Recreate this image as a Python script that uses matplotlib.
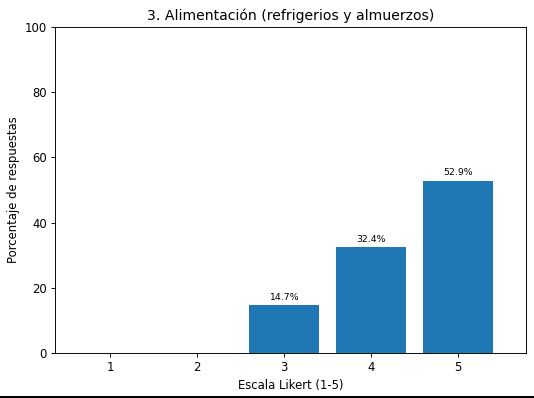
import matplotlib
matplotlib.use("Agg")
import matplotlib.pyplot as plt
from matplotlib.lines import Line2D

categories = [1, 2, 3, 4, 5]
percentages = [0.0, 0.0, 14.7, 32.4, 52.9]
tick_labels = ["1", "2", "3", "4", "5"]
title = "3. Alimentación (refrigerios y almuerzos)"

s = 1.12
plt.rcParams.update({
    "font.size": 10 * s,
    "axes.titlesize": 12 * s,
    "axes.labelsize": 10 * s,
    "xtick.labelsize": 10 * s,
    "ytick.labelsize": 10 * s,
    "axes.linewidth": 0.8 * s,
    "xtick.major.width": 0.8 * s,
    "ytick.major.width": 0.8 * s,
    "xtick.major.size": 3.5 * s,
    "ytick.major.size": 3.5 * s,
    "xtick.major.pad": 3.5 * s,
    "ytick.major.pad": 3.5 * s,
    "axes.titlepad": 6 * s,
    "axes.labelpad": 4 * s,
})

fig = plt.figure(figsize=(534 / 75, 398 / 75), dpi=75)
ax = fig.add_axes([55 / 534, 1 - 353 / 398, (526 - 55) / 534, (353 - 27) / 398])

bars = ax.bar(categories, percentages, width=0.8, color="#1f77b4")
for rect, val in zip(bars, percentages):
    if val > 0:
        ax.annotate(f"{val:.1f}%", (rect.get_x() + rect.get_width() / 2, rect.get_height()),
                    xytext=(0, 3 * s), textcoords="offset points",
                    ha="center", va="bottom", fontsize=8 * s)

ax.set_xticks(categories)
ax.set_xticklabels(tick_labels)
ax.set_xlim(0.368, 5.78)
ax.set_ylim(0, 100)
ax.set_xlabel("Escala Likert (1-5)")
ax.set_ylabel("Porcentaje de respuestas")
ax.set_title(title)

fig.add_artist(Line2D([0, 1], [1.2 / 398, 1.2 / 398], transform=fig.transFigure,
                      color="black", linewidth=2 * 72 / 75))

fig.savefig("out.png", dpi=75)
